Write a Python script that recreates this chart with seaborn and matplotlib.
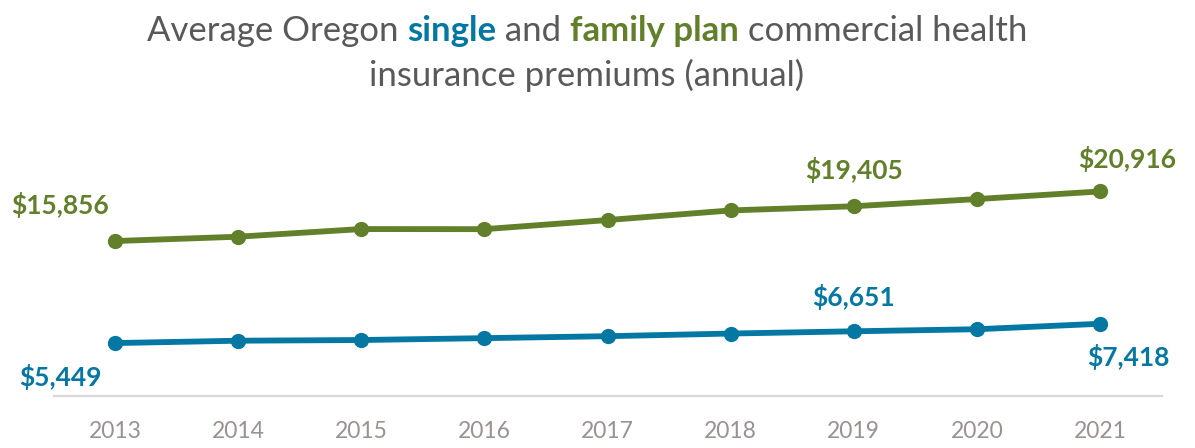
import matplotlib
matplotlib.use("Agg")
import matplotlib.pyplot as plt
import seaborn as sns
import pandas as pd

years = ["2013", "2014", "2015", "2016", "2017", "2018", "2019", "2020", "2021"]
family_plan = [15856, 16300, 17080, 17070, 18000, 18980, 19405, 20140, 20916]
single_plan = [5449, 5690, 5760, 5950, 6150, 6420, 6651, 6860, 7418]
series_names = ["Family plan", "Single"]

GREEN = "#627F2A"
BLUE = "#0478A2"
TITLE_GRAY = "#595959"
TICK_GRAY = "#9B9191"

sns.set_theme(style="white")
plt.rcParams["font.family"] = ["Lato", "DejaVu Sans"]

df = pd.DataFrame({
    "year": years * 2,
    "value": family_plan + single_plan,
    "plan": [series_names[0]] * len(years) + [series_names[1]] * len(years),
})

fig = plt.figure(figsize=(11.95, 4.48), dpi=100)
ax = fig.add_axes([0.0448, 0.115, 0.9272, 0.547])

sns.lineplot(data=df, x="year", y="value", hue="plan",
             palette={series_names[0]: GREEN, series_names[1]: BLUE},
             marker="o", markersize=11, markeredgewidth=0, linewidth=4.2,
             legend=False, ax=ax, sort=False)

ax.set_xlim(-0.5, len(years) - 0.5)
ax.set_ylim(0, 25000)
ax.set_xlabel("")
ax.set_ylabel("")
ax.set_yticks([])
for s in ["top", "right", "left"]:
    ax.spines[s].set_visible(False)
ax.spines["bottom"].set_color("#D9D9D9")
ax.spines["bottom"].set_linewidth(1.6)
ax.tick_params(axis="x", length=0, pad=18, labelsize=16.5, labelcolor=TICK_GRAY)

# data labels
labels = [
    (0, family_plan[0], GREEN, (-55, 36)),
    (6, family_plan[6], GREEN, (0, 36)),
    (8, family_plan[8], GREEN, (27, 32)),
    (0, single_plan[0], BLUE, (-55, -34)),
    (6, single_plan[6], BLUE, (0, 34)),
    (8, single_plan[8], BLUE, (28, -33)),
]
for i, v, c, off in labels:
    ax.annotate(f"${v:,}", xy=(i, v), xytext=off, textcoords="offset pixels",
                ha="center", va="center", fontsize=19, fontweight="bold", color=c)

# title with coloured words
fig.canvas.draw()
renderer = fig.canvas.get_renderer()
line1 = [("Average Oregon ", TITLE_GRAY, "normal"),
         ("single", BLUE, "bold"),
         (" and ", TITLE_GRAY, "normal"),
         ("family plan", GREEN, "bold"),
         (" commercial health", TITLE_GRAY, "normal")]
fs_title = 25
texts = []
for s, c, w in line1:
    t = fig.text(0, 0, s, color=c, fontweight=w, fontsize=fs_title, va="center", ha="left")
    texts.append(t)
widths = [t.get_window_extent(renderer).width for t in texts]
total = sum(widths)
W = fig.get_figwidth() * fig.dpi
H = fig.get_figheight() * fig.dpi
x = 587 - total / 2
for t, w in zip(texts, widths):
    t.set_position((x / W, 1 - 31 / H))
    x += w
fig.text(587 / W, 1 - 75 / H, "insurance premiums (annual)", color=TITLE_GRAY,
         fontsize=fs_title, ha="center", va="center")

fig.savefig("out.png", dpi=100)
